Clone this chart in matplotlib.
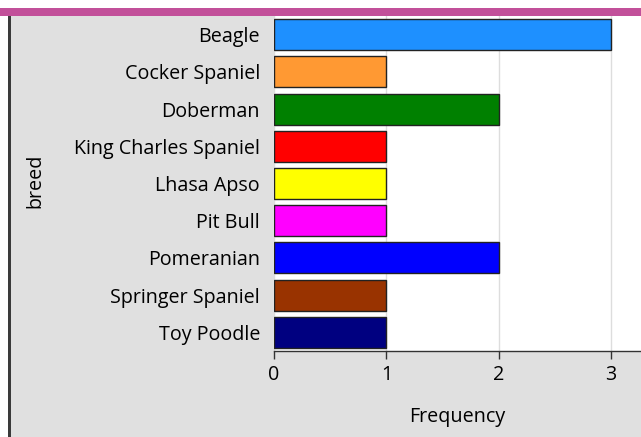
import matplotlib
matplotlib.use("Agg")
import matplotlib.pyplot as plt
from matplotlib.patches import Rectangle

plt.rcParams["font.family"] = ["Open Sans", "DejaVu Sans"]

breeds = ["Beagle", "Cocker Spaniel", "Doberman", "King Charles Spaniel", "Lhasa Apso",
          "Pit Bull", "Pomeranian", "Springer Spaniel", "Toy Poodle"]
counts = [3, 1, 2, 1, 1, 1, 2, 1, 1]
colors = ["#1E90FF", "#FF9933", "#008000", "#FF0000", "#FFFF00",
          "#FF00FF", "#0000FF", "#993300", "#000080"]
xticks = [0, 1, 2, 3]

W, H = 641, 437
FS = 14.2
fig = plt.figure(figsize=(W / 100, H / 100), dpi=100)
fig.patch.set_facecolor("white")

def px(x0, y0, w, h):
    return (x0 / W, 1 - (y0 + h) / H, w / W, h / H)

# grey background
fig.patches.append(Rectangle((11 / W, 0), 1, 1 - 16 / H, transform=fig.transFigure,
                             facecolor="#e0e0e0", edgecolor="none", zorder=-2))
# left dark border
fig.patches.append(Rectangle((8 / W, 0), 3 / W, 1 - 16 / H, transform=fig.transFigure,
                             facecolor="#3a3a3a", edgecolor="none", zorder=-1))
# pink top strip
fig.patches.append(Rectangle((0, 1 - 15.5 / H), 1, 7.5 / H, transform=fig.transFigure,
                             facecolor="#C2509A", edgecolor="none", zorder=-1))

ax = fig.add_axes(px(274, 16, W - 274, 351 - 16))
ax.set_zorder(5)
ax.set_facecolor("white")
y = list(range(len(breeds)))
ax.barh(y, counts, height=0.83, color=colors, edgecolor="#222222", linewidth=1.0, zorder=3)
ax.set_ylim(len(breeds) - 0.5, -0.5)
ax.set_xlim(0, (W - 274) / 112.4)
ax.set_xticks(xticks)
ax.set_xticklabels([str(t) for t in xticks], fontsize=FS)
ax.set_yticks(y)
ax.set_yticklabels(breeds, fontsize=FS)
ax.tick_params(axis="y", length=0, pad=10)
ax.tick_params(axis="x", length=6, width=1, color="#333333", pad=4, direction="out")
ax.grid(axis="x", color="#dddddd", linewidth=1, zorder=0)
for s in ["top", "right", "left"]:
    ax.spines[s].set_visible(False)
ax.spines["bottom"].set_color("#333333")
ax.spines["bottom"].set_linewidth(1)

fig.text(457 / W, 1 - 417 / H, "Frequency", ha="center", va="center", fontsize=FS, zorder=6)
fig.text(35 / W, 1 - 181 / H, "breed", ha="center", va="center", rotation=90, fontsize=FS, zorder=6)

fig.savefig("out.png", dpi=100, facecolor=fig.get_facecolor())
